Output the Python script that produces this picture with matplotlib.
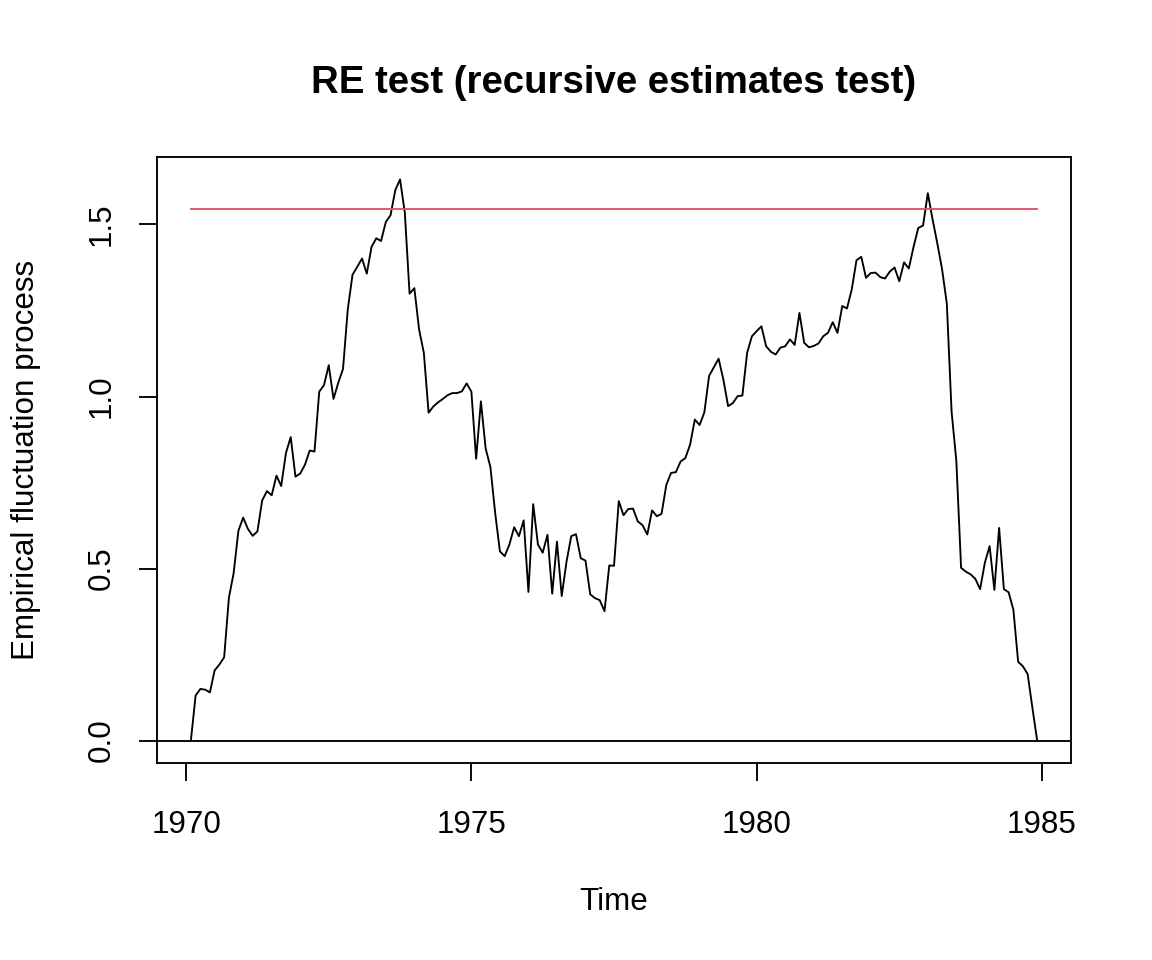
import matplotlib
matplotlib.use("Agg")
import matplotlib.pyplot as plt
import numpy as np

plt.rcParams['font.family'] = ['Liberation Sans', 'DejaVu Sans']

# monthly RE fluctuation process, starting Feb 1970
start_year = 1970 + 1 / 12
freq = 12
process = [
    0.000, 0.131, 0.150, 0.148, 0.140, 0.204, 0.221, 0.242, 0.415, 0.487,
    0.610, 0.648, 0.615, 0.595, 0.608, 0.698, 0.725, 0.713, 0.770, 0.740,
    0.836, 0.882, 0.767, 0.776, 0.802, 0.843, 0.840, 1.014, 1.033, 1.091,
    0.993, 1.040, 1.080, 1.253, 1.354, 1.377, 1.401, 1.357, 1.435, 1.460,
    1.452, 1.507, 1.527, 1.600, 1.631, 1.534, 1.299, 1.315, 1.195, 1.127,
    0.953, 0.971, 0.983, 0.993, 1.004, 1.010, 1.010, 1.015, 1.038, 1.014,
    0.819, 0.986, 0.849, 0.795, 0.662, 0.550, 0.536, 0.570, 0.620, 0.594,
    0.640, 0.432, 0.687, 0.570, 0.546, 0.598, 0.427, 0.578, 0.420, 0.519,
    0.594, 0.600, 0.530, 0.523, 0.425, 0.414, 0.408, 0.376, 0.509, 0.508,
    0.696, 0.655, 0.673, 0.674, 0.637, 0.626, 0.599, 0.669, 0.652, 0.659,
    0.743, 0.778, 0.780, 0.811, 0.821, 0.860, 0.933, 0.917, 0.954, 1.060,
    1.085, 1.110, 1.049, 0.972, 0.981, 1.001, 1.003, 1.127, 1.175, 1.190,
    1.204, 1.146, 1.130, 1.122, 1.142, 1.146, 1.166, 1.150, 1.243, 1.156,
    1.143, 1.147, 1.154, 1.175, 1.185, 1.216, 1.185, 1.263, 1.256, 1.311,
    1.396, 1.406, 1.345, 1.359, 1.360, 1.347, 1.343, 1.363, 1.375, 1.335,
    1.390, 1.372, 1.435, 1.490, 1.497, 1.591, 1.515, 1.445, 1.370, 1.270,
    0.956, 0.813, 0.502, 0.491, 0.483, 0.470, 0.440, 0.517, 0.565, 0.438,
    0.618, 0.440, 0.431, 0.380, 0.229, 0.216, 0.193, 0.095, 0.000,
]
boundary = 1.545
x_ticks = [1970, 1975, 1980, 1985]
y_ticks = [0.0, 0.5, 1.0, 1.5]

process = np.array(process)
t = start_year + np.arange(len(process)) / freq

fig = plt.figure(figsize=(11.52, 9.6), dpi=100)
ax = fig.add_axes([0.1363, 0.2052, 0.7934, 0.6313])

lw = 1.35
fs = 22.6
ax.plot(t, process, color='black', lw=lw)
ax.plot([t[0], t[-1]], [boundary, boundary], color='#DF536B', lw=lw)
ax.axhline(0, color='black', lw=lw)

# R style 4% padding
xr = t[-1] - t[0]
ax.set_xlim(t[0] - 0.04 * xr, t[-1] + 0.04 * xr)
yr = process.max() - process.min()
ax.set_ylim(process.min() - 0.04 * yr, process.max() + 0.04 * yr)

ax.set_xticks(x_ticks)
ax.set_xticklabels([str(v) for v in x_ticks])
ax.set_yticks(y_ticks)
ax.set_yticklabels([f"{v:.1f}" for v in y_ticks], rotation=90, va='center')

ax.tick_params(axis='both', length=13, width=lw, labelsize=fs, direction='out')
ax.tick_params(axis='x', pad=20.5)
ax.tick_params(axis='y', pad=16)
for s in ax.spines.values():
    s.set_linewidth(lw)

ax.set_xlabel("Time", fontsize=fs, labelpad=34)
ax.set_ylabel("Empirical fluctuation process", fontsize=fs, labelpad=33)
ax.set_title("RE test (recursive estimates test)", fontsize=27.6, fontweight='bold', pad=46)

fig.savefig("out.png", dpi=100)
